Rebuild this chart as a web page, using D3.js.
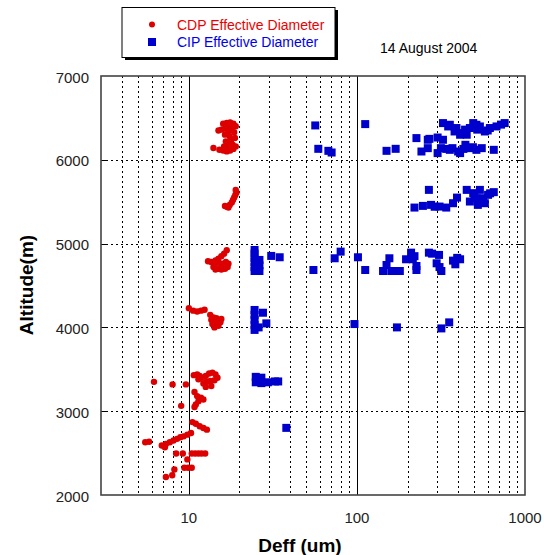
<!DOCTYPE html>
<meta charset="utf-8">
<style>
body { margin: 0; background: #fff; }
text { font-family: "Liberation Sans", Arial, sans-serif; }
.grid line { stroke: #000; stroke-width: 1; stroke-dasharray: 2,3; shape-rendering: crispEdges; }
.major line { stroke: #000; stroke-width: 1; shape-rendering: crispEdges; }
.tick-label { font-size: 15px; fill: #222; }
.axis-title { font-size: 19px; font-weight: bold; fill: #000; }
.legend text { font-size: 14px; }
</style>
<svg width="544" height="555"></svg>
<script src="https://d3js.org/d3.v7.min.js"></script>
<script>

// CDP effective diameter (um), altitude (m)
var cdpPoints = [
  [16.0,6430],[16.8,6440],[17.6,6445],[18.4,6430],[19.0,6400],[17.0,6400],[18.0,6380],
  [16.5,6370],[15.6,6360],[17.2,6340],[18.6,6330],[16.4,6300],[17.5,6280],[18.8,6260],
  [17.8,6230],[16.6,6220],[15.0,6350],[14.0,6140],[15.2,6120],[16.0,6110],[16.8,6100],
  [17.6,6110],[18.4,6130],[19.0,6160],[17.0,6140],[16.2,6160],[18.2,6180],[17.0,6200],
  [19.0,5640],[19.2,5610],[18.9,5580],[18.6,5550],[18.3,5520],[18.0,5490],[17.5,5460],
  [16.8,5440],[16.4,5450],[17.2,5430],
  [16.8,4920],[16.2,4880],[15.6,4850],[15.0,4820],[14.4,4800],[13.0,4790],[13.6,4780],
  [14.2,4760],[15.0,4770],[15.8,4760],[16.6,4780],[17.2,4760],[16.8,4730],[15.8,4720],
  [15.0,4700],[14.4,4690],[15.6,4690],[16.4,4700],[17.0,4720],[14.0,4720],
  [10.0,4230],[10.6,4200],[11.2,4190],[11.8,4200],[12.4,4210],[13.4,4150],[14.0,4120],
  [14.6,4110],[15.0,4080],[15.4,4060],[14.0,4060],[13.6,4090],[14.4,4030],[15.0,4020],
  [14.2,4000],[13.8,4040],[15.6,4100],
  [6.2,3350],[8.0,3320],[9.6,3320],[10.7,3430],[11.2,3440],[11.6,3420],[12.0,3400],
  [12.6,3420],[13.2,3450],[13.8,3460],[14.4,3440],[14.8,3400],[14.2,3370],[13.4,3360],
  [12.8,3350],[12.2,3330],[11.4,3380],[13.6,3300],[12.6,3290],[10.8,3230],[11.2,3180],
  [11.8,3160],[12.2,3140],[11.4,3120],[11.0,3080],[10.8,3050],[9.0,3064],
  [10.5,2870],[11.0,2850],[11.6,2820],[12.2,2800],[12.8,2780],
  [5.5,2630],[5.8,2635],[6.9,2590],[7.3,2610],[7.7,2630],[8.1,2650],[8.5,2670],
  [8.9,2690],[9.3,2700],[9.8,2720],[10.3,2740],[7.2,2570],
  [8.4,2496],[9.2,2496],[9.8,2425],[10.4,2496],[10.9,2496],[11.4,2496],[11.9,2496],
  [12.5,2496],[8.2,2305],[9.4,2325],[9.9,2325],[10.4,2325],[7.3,2215],[7.96,2235]
];

// CIP effective diameter (um), altitude (m)
var cipPoints = [
  [56.5,6410],[112,6426],[58.9,6131],[67.6,6107],[70.7,6087],
  [150,6107],[170,6131],[226,6259],
  [325,6438],[349,6398],[357,6418],[381,6338],[391,6379],[411,6299],[421,6319],
  [450,6299],[470,6379],[492,6438],[514,6418],[539,6398],[577,6338],[618,6379],
  [677,6398],[757,6438],[440,6360],[520,6360],[600,6350],[720,6420],
  [264,6239],[270,6250],[302,6266],[325,6239],
  [242,6099],[264,6139],[302,6080],[316,6139],[357,6119],[370,6139],[400,6099],
  [411,6080],[442,6179],[470,6139],[514,6119],[553,6139],[652,6119],[340,6130],
  [430,6130],[490,6150],
  [268,5641],[450,5641],[220,5430],[247,5450],[276,5462],[310,5442],[340,5430],
  [373,5482],[394,5549],[470,5502],[492,5602],[539,5641],[564,5542],[603,5582],
  [652,5614],[524,5462],[514,5542],[577,5482],[290,5440],[500,5560],[620,5600],
  [24.6,4924],[24.6,4880],[24.6,4828],[24.6,4780],[24.6,4720],[24.6,4673],[26.3,4805],
  [26.3,4740],[26.3,4673],[30.9,4853],[34.7,4837],[55.1,4685],[73.7,4825],[80.0,4904],
  [101.4,4837],[112,4685],[156,4825],[150,4745],[143,4673],[160,4673],[180,4673],
  [170,4673],[210,4892],[196,4813],[215,4813],[226,4733],[226,4685],[220,4850],
  [268,4892],[280,4880],[308,4865],[298,4765],[318,4673],[310,4720],[373,4797],
  [385,4753],[411,4813],[395,4830],
  [24.6,4208],[24.6,4150],[24.6,4089],[24.6,4030],[24.6,3970],[27.6,4175],[28.9,4048],
  [26,4000],[96.7,4040],[173,4000],[318,3988],[354,4060],
  [25,3410],[25,3345],[27,3400],[27,3335],[29.5,3345],[32.5,3355],[34,3355],
  [38,2801]
];

var xMajor = [10, 100];
var xMinor = [4,5,6,7,8,9,20,30,40,50,60,70,80,90,200,300,400,500,600,700,800,900];
var xLabels = [10, 100, 1000];
var yTicks = [2000, 3000, 4000, 5000, 6000, 7000];
var yGrid = [3000, 4000, 5000, 6000];

var svg = d3.select("svg");

var x = d3.scaleLog().domain([3, 1000]).range([101, 525]);
var y = d3.scaleLinear().domain([2000, 7000]).range([495, 76]);

// dotted grid
var grid = svg.append("g").attr("class", "grid");
grid.selectAll(".vx").data(xMinor).enter().append("line")
    .attr("x1", function(d) { return Math.round(x(d)) + 0.5; })
    .attr("x2", function(d) { return Math.round(x(d)) + 0.5; })
    .attr("y1", y(7000)).attr("y2", y(2000));
grid.selectAll(".hy").data(yGrid).enter().append("line")
    .attr("x1", x(3)).attr("x2", x(1000))
    .attr("y1", function(d) { return Math.round(y(d)) + 0.5; })
    .attr("y2", function(d) { return Math.round(y(d)) + 0.5; });

var major = svg.append("g").attr("class", "major");
major.selectAll(".mx").data(xMajor).enter().append("line")
    .attr("x1", function(d) { return Math.round(x(d)) + 0.5; })
    .attr("x2", function(d) { return Math.round(x(d)) + 0.5; })
    .attr("y1", y(7000)).attr("y2", y(2000));
// small inside ticks on left / right edges
major.selectAll(".tl").data(yGrid).enter().append("line")
    .attr("x1", x(3)).attr("x2", x(3) + 6)
    .attr("y1", function(d) { return Math.round(y(d)) + 0.5; })
    .attr("y2", function(d) { return Math.round(y(d)) + 0.5; });
major.selectAll(".tr").data(yGrid).enter().append("line")
    .attr("x1", x(1000) - 8).attr("x2", x(1000))
    .attr("y1", function(d) { return Math.round(y(d)) + 0.5; })
    .attr("y2", function(d) { return Math.round(y(d)) + 0.5; });

// frame
svg.append("rect")
    .attr("x", x(3)).attr("y", y(7000))
    .attr("width", x(1000) - x(3)).attr("height", y(2000) - y(7000))
    .attr("fill", "none").attr("stroke", "#444").attr("stroke-width", 1.6);

// data
svg.append("g").selectAll("circle").data(cdpPoints).enter().append("circle")
    .attr("cx", function(d) { return x(d[0]); })
    .attr("cy", function(d) { return y(d[1]); })
    .attr("r", 3.2)
    .attr("fill", "#dd0000");

svg.append("g").selectAll("rect").data(cipPoints).enter().append("rect")
    .attr("x", function(d) { return x(d[0]) - 4; })
    .attr("y", function(d) { return y(d[1]) - 4; })
    .attr("width", 8).attr("height", 8)
    .attr("fill", "#0000cc");

// tick labels
svg.selectAll(".ylab").data(yTicks).enter().append("text")
    .attr("class", "tick-label")
    .attr("x", 89).attr("y", function(d) { return y(d) + 1; })
    .attr("text-anchor", "end").attr("dominant-baseline", "central")
    .text(function(d) { return d; });

svg.selectAll(".xlab").data(xLabels).enter().append("text")
    .attr("class", "tick-label")
    .attr("x", function(d) { return x(d); }).attr("y", 517)
    .attr("text-anchor", "middle").attr("dominant-baseline", "central")
    .text(function(d) { return d; });

// axis titles
svg.append("text").attr("class", "axis-title")
    .attr("x", 300).attr("y", 545)
    .attr("text-anchor", "middle").attr("dominant-baseline", "central")
    .text("Deff (um)");

svg.append("text").attr("class", "axis-title")
    .attr("transform", "translate(26,285) rotate(-90)")
    .attr("text-anchor", "middle").attr("dominant-baseline", "central")
    .text("Altitude(m)");

// legend
var legend = svg.append("g").attr("class", "legend");
legend.append("rect").attr("x", 125).attr("y", 10).attr("width", 213).attr("height", 50).attr("fill", "#000");
legend.append("rect").attr("x", 122).attr("y", 7.5).attr("width", 213).attr("height", 50)
    .attr("fill", "#fff").attr("stroke", "#000").attr("stroke-width", 1);
legend.append("circle").attr("cx", 152).attr("cy", 24.5).attr("r", 3).attr("fill", "#dd0000");
legend.append("rect").attr("x", 148).attr("y", 38).attr("width", 8).attr("height", 8).attr("fill", "#0000cc");
legend.append("text").attr("x", 177).attr("y", 24.5).attr("dominant-baseline", "central")
    .attr("fill", "#ee0000").text("CDP Effective Diameter");
legend.append("text").attr("x", 177).attr("y", 41.5).attr("dominant-baseline", "central")
    .attr("fill", "#0000ee").text("CIP Effective Diameter");

svg.append("text").attr("x", 380).attr("y", 48).attr("dominant-baseline", "central")
    .style("font-size", "14px").text("14 August 2004");

</script>
